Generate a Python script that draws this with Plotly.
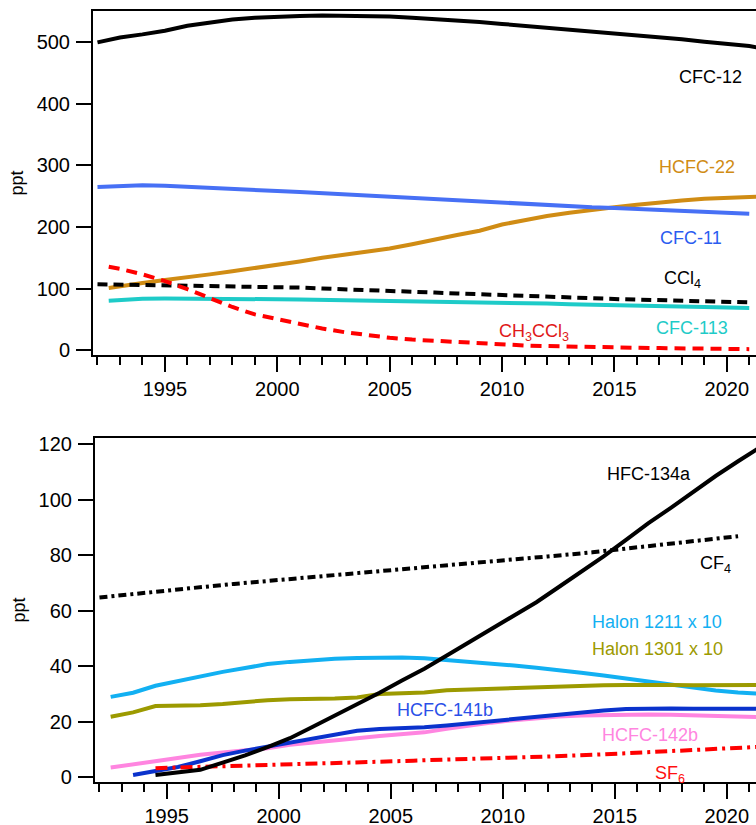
import plotly.graph_objects as go

# ---- top panel: CFCs, HCFC-22, CCl4, CH3CCl3 (ppt) ----
yr_cfc12 = list(range(1992, 2022)) + [2021.5]
cfc12 = [500, 508, 513, 519, 527, 532, 537, 540, 542, 543, 543.5, 543.5, 543, 542, 540,
         538, 536, 533, 530, 527, 524, 521, 517, 514, 511, 508, 505, 501, 498, 494, 491]

yr_hcfc22 = [1992.5] + list(range(1993, 2022)) + [2021.5]
hcfc22 = [101, 104, 109, 114, 118, 123, 128, 133, 139, 144, 150, 155, 160, 165, 172,
          180, 187, 194, 204, 211, 218, 223, 228, 232, 236, 240, 243, 246, 248, 249, 249.5]

yr_cfc11 = list(range(1992, 2022))
cfc11 = [265, 267, 268, 267, 265, 263.5, 262, 260, 258.5, 257, 255, 253, 251, 249, 247,
         245, 243, 241, 239, 237, 235, 233.5, 232, 231, 229.5, 228.5, 227, 225.5, 223.5, 221.5]

yr_ccl4 = list(range(1992, 2022))
ccl4 = [107, 106.5, 106, 105, 104.5, 104, 103.5, 103, 102.5, 101.5, 100, 99, 98, 96.5, 95,
        93.5, 92, 90.5, 89, 88, 87, 85.5, 84.5, 83, 82, 81, 80, 79, 78.5, 77.5]

yr_cfc113 = [1992.5] + list(range(1993, 2022))
cfc113 = [80, 81.5, 83.5, 84, 84, 84, 83.5, 83, 82.5, 82, 81.5, 81, 80.5, 80, 79.5,
          78.5, 78, 77.5, 77, 76, 75.5, 74.5, 74, 73, 72, 71.5, 70.5, 70, 69, 68.5]

yr_ch3ccl3 = [1992.5] + list(range(1993, 2022))
ch3ccl3 = [135.5, 132, 123, 112, 99, 85, 70, 58, 50, 42, 35, 29, 24, 20, 17,
           15, 12.5, 10.5, 9, 7.5, 6.5, 5.5, 5, 4.5, 3.8, 3.2, 2.6, 2.2, 1.8, 1.5]

# ---- bottom panel: HFC-134a, CF4, halons, HCFC-141b/142b, SF6 (ppt) ----
yr_half = [y + 0.5 for y in range(1992, 2022)]

yr_hfc134a = yr_half[2:]
hfc134a = [0.7, 1.5, 2.6, 5.2, 7.8, 10.8, 14, 18, 22, 26, 30.4, 34.8, 39, 43.8, 48.6,
           53.5, 58.2, 63, 68.5, 74, 79.5, 85.5, 91.5, 97, 102.8, 108.5, 113.8, 119]

yr_cf4 = [1992, 1994, 1996, 1998, 2000, 2002, 2004, 2006, 2008, 2010, 2012, 2014,
          2016, 2018, 2020.5]
cf4 = [64.7, 66.5, 68, 69.6, 71, 72.4, 73.7, 75, 76.5, 78, 79.5, 81, 82.8, 84.6, 86.8]

yr_h1211 = yr_half
halon1211 = [28.9, 30.4, 32.9, 34.6, 36.3, 37.9, 39.3, 40.7, 41.5, 42.2, 42.6, 42.9, 43.1,
             43.1, 42.8, 42.2, 41.5, 40.8, 40.2, 39.4, 38.6, 37.6, 36.6, 35.5, 34.4, 33.3,
             32.2, 31.2, 30.5, 30]

yr_h1301 = yr_half
halon1301 = [21.7, 23.3, 25.6, 25.6, 25.9, 26.3, 27, 27.7, 28, 28.1, 28.3, 28.7, 29.9,
             30.2, 30.5, 31.3, 31.6, 31.8, 32, 32.3, 32.6, 32.9, 33.1, 33.2, 33.3, 33.2,
             33.1, 33.1, 33.2, 33.2]

yr_hcfc141b = yr_half[1:]
hcfc141b = [0.7, 2, 3.6, 5.7, 7.9, 9.5, 11, 12.5, 13.8, 15.2, 16.7, 17.3, 17.6, 17.9,
            18.6, 19.4, 20.2, 21, 21.8, 22.6, 23.4, 24, 24.5, 24.7, 24.7, 24.6, 24.5,
            24.5, 24.6]

yr_hcfc142b = yr_half
hcfc142b = [3.4, 4.6, 5.9, 7, 8, 8.8, 9.6, 10.4, 11.6, 12.5, 13.3, 14, 14.8, 15.4, 16.1,
            17.4, 18.6, 19.6, 20.5, 21.2, 21.8, 22.2, 22.4, 22.5, 22.5, 22.4, 22.2, 22,
            21.8, 21.6]

yr_sf6 = [1994.5, 1996, 1998, 2000, 2002, 2004, 2006, 2008, 2010, 2012, 2014, 2016,
          2018, 2020, 2021.5]
sf6 = [3.2, 3.6, 4.0, 4.4, 4.9, 5.4, 5.9, 6.3, 6.8, 7.4, 8.0, 8.7, 9.5, 10.2, 10.9]

FONT = "Liberation Sans, Arial, Helvetica, sans-serif"


def main():
    fig = go.Figure()

    top = [
        (yr_cfc12, cfc12, "black", "solid"),
        (yr_hcfc22, hcfc22, "#d08c14", "solid"),
        (yr_cfc11, cfc11, "#4770f5", "solid"),
        (yr_cfc113, cfc113, "#1ecbc8", "solid"),
        (yr_ccl4, ccl4, "black", "10px,6px"),
        (yr_ch3ccl3, ch3ccl3, "#ff0000", "11px,7px"),
    ]
    for x, y, color, dash in top:
        fig.add_trace(go.Scatter(x=x, y=y, mode="lines", xaxis="x", yaxis="y",
                                 line=dict(color=color, width=4, dash=dash)))

    bottom = [
        (yr_cf4, cf4, "black", "8px,4px,3px,4px"),
        (yr_h1211, halon1211, "#12b0f2", "solid"),
        (yr_h1301, halon1301, "#9c9a00", "solid"),
        (yr_hcfc142b, hcfc142b, "#ff85e0", "solid"),
        (yr_hcfc141b, hcfc141b, "#0a32cc", "solid"),
        (yr_sf6, sf6, "#ff0000", "12px,5px,3px,5px"),
        (yr_hfc134a, hfc134a, "black", "solid"),
    ]
    for x, y, color, dash in bottom:
        fig.add_trace(go.Scatter(x=x, y=y, mode="lines", xaxis="x2", yaxis="y2",
                                 line=dict(color=color, width=4, dash=dash)))

    labels = [
        ("x", "y", 2019.26, 444, "CFC-12", "black"),
        ("x", "y", 2018.66, 298, "HCFC-22", "#d08c14"),
        ("x", "y", 2018.39, 182, "CFC-11", "#2a5cf0"),
        ("x", "y", 2018.03, 114, "CCl<sub>4</sub>", "black"),
        ("x", "y", 2018.46, 36, "CFC-113", "#1ecbc8"),
        ("x", "y", 2011.41, 28, "CH<sub>3</sub>CCl<sub>3</sub>", "#e01818"),
        ("x2", "y2", 2016.54, 109.2, "HFC-134a", "black"),
        ("x2", "y2", 2019.51, 76.5, "CF<sub>4</sub>", "black"),
        ("x2", "y2", 2016.88, 55.9, "Halon 1211 x 10", "#12b0f2"),
        ("x2", "y2", 2016.92, 46.1, "Halon 1301 x 10", "#9c9a00"),
        ("x2", "y2", 2007.41, 24.1, "HCFC-141b", "#2a50e8"),
        ("x2", "y2", 2016.59, 15.1, "HCFC-142b", "#ff85e0"),
        ("x2", "y2", 2017.46, 0.8, "SF<sub>6</sub>", "#ff1010"),
    ]
    for xr, yr, x, y, text, color in labels:
        fig.add_annotation(x=x, y=y, xref=xr, yref=yr, text=text, showarrow=False,
                           xanchor="center", yanchor="middle",
                           font=dict(family=FONT, size=18, color=color))

    xaxis_style = dict(
        range=[1991.8, 2021.3], showline=True, linecolor="black", linewidth=2,
        mirror=True, ticks="outside", ticklen=15, tickwidth=2, tickcolor="black",
        tick0=1995, dtick=5, showgrid=False, zeroline=False, automargin=False,
        ticklabelstandoff=0,
        minor=dict(ticks="outside", dtick=1, tick0=1992, ticklen=8, tickwidth=2,
                   tickcolor="black", showgrid=False),
        tickfont=dict(family=FONT, size=20, color="black"),
    )
    yaxis_style = dict(
        showline=True, linecolor="black", linewidth=2, ticks="outside", ticklen=15,
        tickwidth=2, tickcolor="black", showgrid=False, zeroline=False, automargin=False,
        ticklabelstandoff=2,
        tickfont=dict(family=FONT, size=20, color="black"),
        title=dict(text="ppt", standoff=8, font=dict(family=FONT, size=18, color="black")),
    )

    fig.update_layout(
        width=756, height=825,
        margin=dict(l=93, r=0, t=0, b=0),
        plot_bgcolor="white", paper_bgcolor="white",
        showlegend=False,
        hovermode=False,
        xaxis=dict(xaxis_style, domain=[0, 1], anchor="y"),
        yaxis=dict(yaxis_style, domain=[0.5697, 0.9867], anchor="x",
                   range=[-8, 551], tick0=0, dtick=100),
        xaxis2=dict(xaxis_style, domain=[0.003, 1], anchor="y2"),
        yaxis2=dict(yaxis_style, domain=[0.0521, 0.4691], anchor="x2",
                    range=[-1.8, 122.2], tick0=0, dtick=20),
    )

    # page body has a default 8px margin; drop it so the figure sits at the corner
    fig.write_html("out.html",
                   config={"displayModeBar": False},
                   post_script="document.body.style.margin='0';"
                               "document.body.style.overflow='hidden';")


if __name__ == "__main__":
    main()
